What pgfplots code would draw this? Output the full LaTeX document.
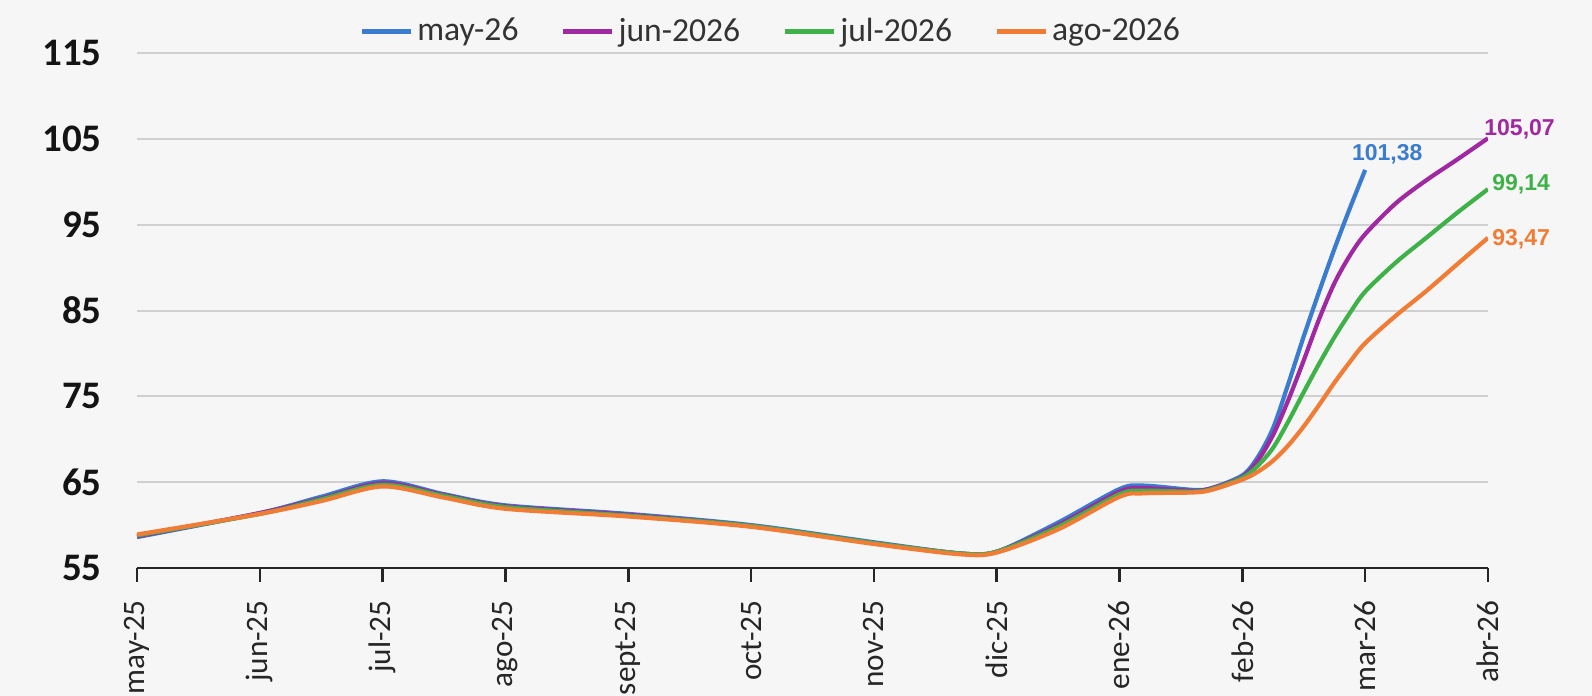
\documentclass[border=0pt]{standalone}
\usepackage{fontspec}
\setmainfont{Carlito}
\newfontfamily\lab{Liberation Sans}
\usepackage{pgfplots}
\usepackage{pgfplotstable}
\pgfplotsset{compat=1.18}
\definecolor{cblue}{RGB}{58,124,208}
\definecolor{cpurple}{RGB}{160,40,160}
\definecolor{cgreen}{RGB}{62,178,72}
\definecolor{corange}{RGB}{240,124,54}
\definecolor{bg}{RGB}{246,246,246}
\definecolor{gridc}{RGB}{208,208,208}
\pgfplotstableread{
x      b      p      g      o
0      58.6   58.7   58.8   58.9
1      61.4   61.4   61.3   61.3
1.5    63.3   63.1   63.0   62.8
2      65.1   64.9   64.7   64.5
2.5    63.6   63.5   63.4   63.2
3      62.3   62.2   62.1   61.9
4      61.3   61.2   61.1   61.0
5      60.0   59.9   59.9   59.8
6      58.0   57.9   57.9   57.8
6.7    56.7   56.7   56.7   56.6
7      56.9   56.9   56.9   56.8
7.5    60.3   60.0   59.8   59.5
8      64.2   63.9   63.6   63.3
8.2    64.6   64.3   64.0   63.7
8.6    64.1   64.0   63.9   63.8
8.75   64.3   64.3   64.2   64.1
9      65.8   65.6   65.5   65.3
9.125  67.9   67.5   66.9   66.2
9.25   71.3   70.5   69.0   67.5
9.375  76.5   74.6   72.1   69.3
9.5    82.0   79.2   75.5   71.5
9.625  87.2   84.0   78.8   74.0
9.75   92.2   88.2   81.9   76.6
9.875  96.9   91.4   84.7   79.0
10     101.38 93.9   87.2   81.2
10.25  nan    97.5   90.6   84.4
10.5   nan    100.2  93.5   87.3
10.75  nan    102.6  96.4   90.4
11     nan    105.07 99.14  93.47
}\data
\begin{document}
\begin{tikzpicture}
\fill[bg] (-68.5pt,-64pt) rectangle (727.5pt,284pt);
\begin{axis}[
  scale only axis,
  width=675.5pt, height=257.5pt,
  xmin=0, xmax=11, ymin=55, ymax=115,
  clip mode=individual,
  axis x line=bottom, axis y line=left,
  x axis line style={-, black!85, line width=1.3pt},
  y axis line style={draw=none},
  xtick={0,...,11},
  xticklabels={may-25,jun-25,jul-25,ago-25,sept-25,oct-25,nov-25,dic-25,ene-26,feb-26,mar-26,abr-26},
  x tick style={black!85, line width=1.3pt},
  tick align=outside,
  major tick length=7pt,
  xticklabel style={rotate=90, anchor=east, inner sep=0pt, font=\fontsize{15.6}{18}\selectfont, text=black!85},
  xticklabel shift=9pt,
  ytick={55,65,...,115},
  ytick style={draw=none},
  yticklabel style={anchor=east, inner sep=0pt, xshift=-10.5pt, font=\bfseries\fontsize{19.5}{21}\selectfont, text=black!92},
  /pgf/number format/assume math mode=true,
  ymajorgrids,
  grid style={gridc, line width=1pt},
  legend columns=4,
  legend style={draw=none, fill=none, inner sep=0pt, at={(0.1643,1.0427)}, anchor=west,
    font=\fontsize{16.8}{18}\selectfont, text=black!80,
    /tikz/every even column/.append style={column sep=19pt}},
  legend image code/.code={\draw[#1, line width=2.5pt] (0pt,0pt) -- (24.5pt,0pt);},
  every axis plot/.append style={line width=2.1pt, smooth},
]
\addplot[cblue, no markers] table[x=x, y=b] {\data};
\addlegendentry{may-26}
\addplot[cpurple, no markers] table[x=x, y=p] {\data};
\addlegendentry{jun-2026}
\addplot[cgreen, no markers] table[x=x, y=g] {\data};
\addlegendentry{jul-2026}
\addplot[corange, no markers] table[x=x, y=o] {\data};
\addlegendentry{ago-2026}
\node[font=\lab\bfseries\fontsize{11.5}{13}\selectfont, text=cblue, anchor=south, inner sep=0pt, xshift=11pt, yshift=2.5pt] at (axis cs:10,101.38) {101,38};
\node[font=\lab\bfseries\fontsize{11.5}{13}\selectfont, text=cpurple, anchor=south west, inner sep=0pt, xshift=-2pt, yshift=-0.5pt] at (axis cs:11,105.07) {105,07};
\node[font=\lab\bfseries\fontsize{11.5}{13}\selectfont, text=cgreen, anchor=west, inner sep=0pt, xshift=2pt, yshift=2.5pt] at (axis cs:11,99.14) {99,14};
\node[font=\lab\bfseries\fontsize{11.5}{13}\selectfont, text=corange, anchor=west, inner sep=0pt, xshift=2pt, yshift=-0.5pt] at (axis cs:11,93.47) {93,47};
\end{axis}
\pgfresetboundingbox
\path[use as bounding box] (-68.5pt,-64pt) rectangle (727.5pt,284pt);
\end{tikzpicture}
\end{document}
